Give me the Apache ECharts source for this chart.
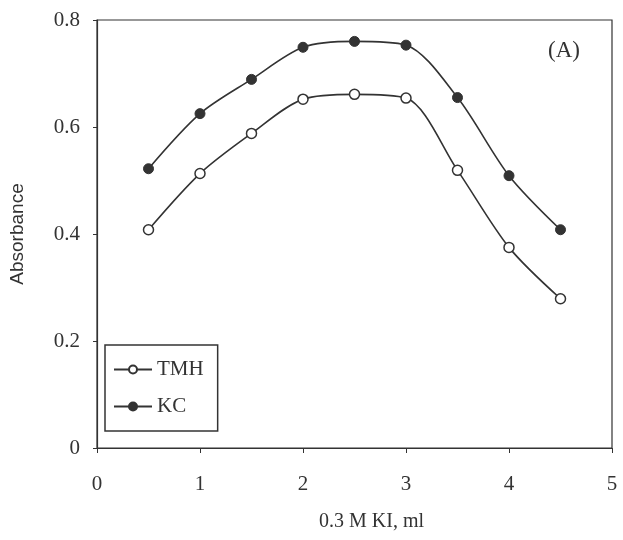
<!DOCTYPE html>
<html><head><meta charset="utf-8">
<script src="https://cdn.jsdelivr.net/npm/echarts@6/dist/echarts.min.js"></script>
<style>html,body{margin:0;padding:0;background:#fff}#c{width:623px;height:540px}</style>
</head><body><div id="c"></div>
<script>
const xValues = [0.5, 1, 1.5, 2, 2.5, 3, 3.5, 4, 4.5];
const tmh = [0.408, 0.513, 0.588, 0.652, 0.661, 0.654, 0.519, 0.375, 0.279];
const kc  = [0.522, 0.625, 0.689, 0.749, 0.760, 0.753, 0.655, 0.509, 0.408];
const seriesNames = ['TMH', 'KC'];

const ink = '#333';
const serif = 'Liberation Serif';
const chart = echarts.init(document.getElementById('c'));
chart.setOption({
  animation: false,
  backgroundColor: '#fff',
  title: { text: '(A)', right: 38, top: 34, textStyle: { fontFamily: serif, fontSize: 23, fontWeight: 'normal', color: ink } },
  grid: { left: 94, right: 11, top: 20, bottom: 92, show: true, borderColor: ink, borderWidth: 1.2 },
  legend: {
    orient: 'vertical', left: 105, top: 345, itemGap: 16,
    padding: [14, 14, 14, 8],
    borderColor: ink, borderWidth: 1.5,
    itemWidth: 38, itemHeight: 10,
    textStyle: { fontFamily: serif, fontSize: 21, color: ink },
    data: seriesNames
  },
  xAxis: {
    type: 'value', min: 0, max: 5, interval: 1,
    name: '0.3 M KI, ml', nameLocation: 'middle', nameGap: 64,
    nameTextStyle: { fontFamily: serif, fontSize: 20, color: ink, padding: [0, 0, 0, 34] },
    axisLine: { lineStyle: { color: ink, width: 1.2 } },
    axisTick: { show: true, length: 5, lineStyle: { color: ink } },
    axisLabel: { fontFamily: serif, fontSize: 21, color: ink, margin: 26 },
    splitLine: { show: false }
  },
  yAxis: {
    type: 'value', min: 0, max: 0.8, interval: 0.2,
    name: 'Absorbance', nameLocation: 'middle', nameGap: 70,
    nameTextStyle: { fontFamily: 'Liberation Sans', fontSize: 19, color: ink },
    axisLine: { show: true, lineStyle: { color: ink, width: 1.2 } },
    axisTick: { show: true, length: 4, lineStyle: { color: ink } },
    axisLabel: { fontFamily: serif, fontSize: 21, color: ink, margin: 17,
      formatter: v => (v === 0 ? '0' : v.toFixed(1)) },
    splitLine: { show: false }
  },
  series: [
    { name: seriesNames[0], type: 'line', smooth: 0.3,
      data: xValues.map((x, i) => [x, tmh[i]]),
      symbol: 'circle', symbolSize: 10,
      lineStyle: { color: ink, width: 1.6 },
      itemStyle: { color: '#fff', borderColor: ink, borderWidth: 1.5 } },
    { name: seriesNames[1], type: 'line', smooth: 0.3,
      data: xValues.map((x, i) => [x, kc[i]]),
      symbol: 'circle', symbolSize: 10,
      lineStyle: { color: ink, width: 1.6 },
      itemStyle: { color: ink, borderColor: ink, borderWidth: 1 } }
  ]
});
</script></body></html>
